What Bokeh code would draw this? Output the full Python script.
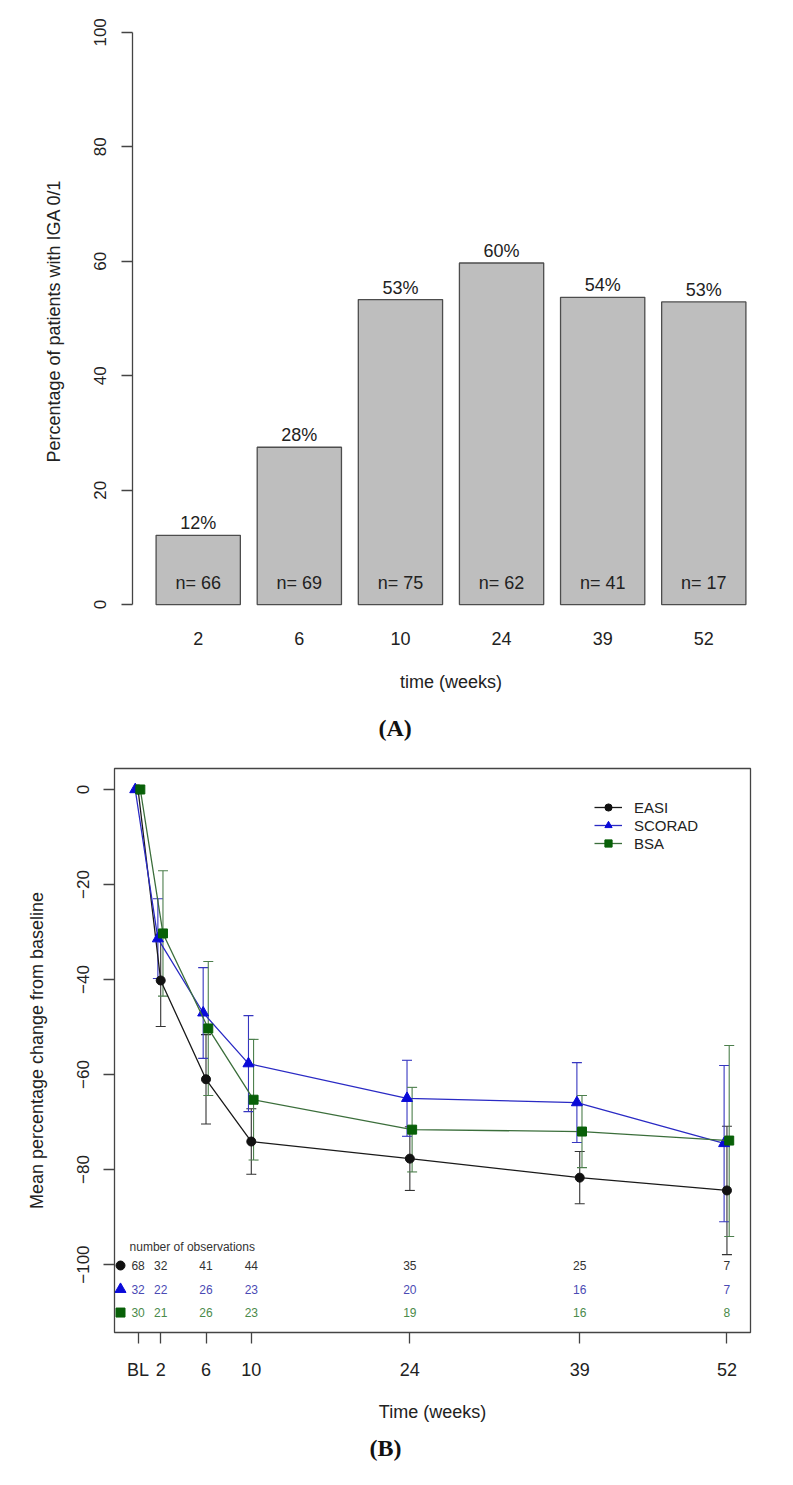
from bokeh.plotting import figure
from bokeh.models import (ColumnDataSource, FixedTicker, Legend, LegendItem,
                          Whisker, TeeHead, Range1d, Title)
from bokeh.core.properties import value
from bokeh.embed import file_html
from bokeh.resources import INLINE

# ---------------- Panel A data ----------------
weeks_a = ["2", "6", "10", "24", "39", "52"]
pct_a = [12.1, 27.5, 53.3, 59.7, 53.7, 52.9]
pct_text_a = ["12%", "28%", "53%", "60%", "54%", "53%"]
n_a = [66, 69, 75, 62, 41, 17]
yticks_a = [0, 20, 40, 60, 80, 100]

# ---------------- Panel B data ----------------
weeks_b = [0, 2, 6, 10, 24, 39, 52]
week_labels_b = ["BL", "2", "6", "10", "24", "39", "52"]
easi_mean = [0, -40.2, -61.0, -74.1, -77.7, -81.7, -84.4]
easi_lo = [0, -49.9, -70.4, -81.0, -84.4, -87.2, -97.9]
easi_hi = [0, -30.5, -51.6, -67.2, -71.0, -76.2, -70.9]
scorad_mean = [0, -31.4, -47.0, -57.7, -65.0, -65.9, -74.5]
scorad_lo = [0, -39.8, -56.6, -67.8, -73.0, -74.3, -91.0]
scorad_hi = [0, -23.0, -37.5, -47.6, -57.0, -57.5, -58.1]
bsa_mean = [0, -30.3, -50.3, -65.3, -71.6, -72.0, -73.9]
bsa_lo = [0, -43.5, -64.4, -78.0, -80.5, -79.6, -94.1]
bsa_hi = [0, -17.1, -36.2, -52.6, -62.7, -64.4, -53.9]
n_easi = [68, 32, 41, 44, 35, 25, 7]
n_scorad = [32, 22, 26, 23, 20, 16, 7]
n_bsa = [30, 21, 26, 23, 19, 16, 8]
yticks_b = [0, -20, -40, -60, -80, -100]

FONT = "Liberation Sans"
SERIF = "Liberation Serif"
TXT = "#222222"
AX = "#444444"

# ================= Panel A =================
pa = figure(width=777, height=758, x_range=Range1d(-0.65, 5.65), y_range=Range1d(-4, 104),
            output_backend="svg", toolbar_location=None,
            min_border_left=132, min_border_right=8, min_border_top=9, min_border_bottom=130)
pa.outline_line_color = None
pa.xgrid.visible = False
pa.ygrid.visible = False

idx = list(range(len(weeks_a)))
src_a = ColumnDataSource(dict(x=idx, top=pct_a, pct=pct_text_a,
                              n=["n= %d" % v for v in n_a], ny=[3.8] * len(idx)))
pa.vbar(x="x", top="top", bottom=0, width=1 / 1.2, source=src_a,
        fill_color="#bebebe", line_color="#4d4d4d", line_width=1.3)
pa.text(x="x", y="top", text="pct", source=src_a, text_align="center", text_baseline="bottom",
        y_offset=-2, text_font=value(FONT), text_font_size="18px", text_color=TXT)
pa.text(x="x", y="ny", text="n", source=src_a, text_align="center", text_baseline="middle",
        text_font=value(FONT), text_font_size="18px", text_color=TXT)

ya = pa.yaxis[0]
ya.ticker = FixedTicker(ticks=yticks_a)
ya.bounds = (0, 100)
ya.major_label_orientation = "vertical"
ya.major_tick_out = 11
ya.major_tick_in = 0
ya.minor_tick_line_color = None
ya.axis_line_color = AX
ya.axis_line_width = 1.3
ya.major_tick_line_color = AX
ya.major_tick_line_width = 1.3
ya.major_label_standoff = 15
ya.major_label_text_font = FONT
ya.major_label_text_font_size = "17px"
ya.major_label_text_color = TXT
ya.axis_label = "Percentage of patients with IGA  0/1"
ya.axis_label_text_font = FONT
ya.axis_label_text_font_size = "18px"
ya.axis_label_text_font_style = "normal"
ya.axis_label_text_color = TXT
ya.axis_label_standoff = 28

xa = pa.xaxis[0]
xa.ticker = FixedTicker(ticks=idx)
xa.major_label_overrides = {i: w for i, w in zip(idx, weeks_a)}
xa.axis_line_color = None
xa.major_tick_line_color = None
xa.minor_tick_line_color = None
xa.major_tick_out = 0
xa.major_tick_in = 0
xa.major_label_standoff = 4
xa.major_label_text_font = FONT
xa.major_label_text_font_size = "18px"
xa.major_label_text_color = TXT
xa.axis_label = "time (weeks)"
xa.axis_label_text_font = FONT
xa.axis_label_text_font_size = "18px"
xa.axis_label_text_font_style = "normal"
xa.axis_label_text_color = TXT
xa.axis_label_standoff = 24

pa.add_layout(Title(text="(A)", align="left", offset=246, standoff=36, text_font=SERIF,
                    text_font_style="bold", text_font_size="24px", text_color="#111111"), "below")

# ================= Panel B =================
pb = figure(width=777, height=719, x_range=Range1d(-2.08, 54.08), y_range=Range1d(-114.3, 4.42),
            output_backend="svg", toolbar_location=None,
            min_border_left=114, min_border_right=27, min_border_top=10, min_border_bottom=145)
pb.outline_line_color = AX
pb.outline_line_width = 1.3
pb.xgrid.visible = False
pb.ygrid.visible = False

series = [
    ("EASI", easi_mean, easi_lo, easi_hi, n_easi, 0.0, "circle", 9, "#111111", "#1a1a1a", "#333333", "#333333"),
    ("SCORAD", scorad_mean, scorad_lo, scorad_hi, n_scorad, -0.25, "triangle", 11, "#0a0ad8", "#2a2ac4", "#3636c0", "#4a4ab4"),
    ("BSA", bsa_mean, bsa_lo, bsa_hi, n_bsa, 0.2, "square", 9, "#086008", "#3b6e3b", "#4d7f4d", "#4a8a4a"),
]

legend_items = []
row_y = [-100.2, -105.2, -110.1]
for k, (name, mean, lo, hi, nobs, off, marker, msize, mcol, lcol, ecol, tcol) in enumerate(series):
    xs = [w + off for w in weeks_b]
    src = ColumnDataSource(dict(x=xs, y=mean))
    esrc = ColumnDataSource(dict(x=xs[1:], lo=lo[1:], hi=hi[1:]))
    pb.add_layout(Whisker(source=esrc, base="x", lower="lo", upper="hi", dimension="height",
                          line_color=ecol, line_width=1.1,
                          upper_head=TeeHead(size=10, line_color=ecol, line_width=1.1),
                          lower_head=TeeHead(size=10, line_color=ecol, line_width=1.1)))
    ln = pb.line("x", "y", source=src, line_color=lcol, line_width=1.3)
    sc = pb.scatter("x", "y", source=src, marker=marker, size=msize, fill_color=mcol, line_color=mcol)
    legend_items.append(LegendItem(label=name, renderers=[ln, sc]))
    nsrc = ColumnDataSource(dict(x=weeks_b, y=[row_y[k]] * len(weeks_b), t=[str(v) for v in nobs]))
    pb.text("x", "y", text="t", source=nsrc, text_align="center", text_baseline="middle",
            text_font=value(FONT), text_font_size="12px", text_color=tcol)
    pb.scatter(x=[-1.55], y=[row_y[k]], marker=marker, size=msize, fill_color=mcol, line_color=mcol)

pb.text(x=[-0.75], y=[-96.2], text=["number of observations"], text_align="left",
        text_baseline="middle", text_font=value(FONT), text_font_size="12px", text_color="#333333")

legend = Legend(items=legend_items, location=(480, 480))
legend.border_line_color = None
legend.background_fill_alpha = 0
legend.label_text_font = FONT
legend.label_text_font_size = "15px"
legend.label_text_color = TXT
legend.glyph_width = 28
legend.glyph_height = 18
legend.label_height = 18
legend.label_standoff = 12
legend.padding = 0
legend.spacing = 0
pb.add_layout(legend)

yb = pb.yaxis[0]
yb.ticker = FixedTicker(ticks=yticks_b)
yb.major_label_overrides = {v: str(v).replace("-", "\u2212") for v in yticks_b}
yb.major_label_orientation = "vertical"
yb.axis_line_color = None
yb.major_tick_out = 11
yb.major_tick_in = 0
yb.minor_tick_line_color = None
yb.major_tick_line_color = AX
yb.major_tick_line_width = 1.3
yb.major_label_standoff = 14
yb.major_label_text_font = FONT
yb.major_label_text_font_size = "17px"
yb.major_label_text_color = TXT
yb.axis_label = "Mean percentage change from baseline"
yb.axis_label_text_font = FONT
yb.axis_label_text_font_size = "18px"
yb.axis_label_text_font_style = "normal"
yb.axis_label_text_color = TXT
yb.axis_label_standoff = 28

xb = pb.xaxis[0]
xb.ticker = FixedTicker(ticks=weeks_b)
xb.major_label_overrides = {w: l for w, l in zip(weeks_b, week_labels_b)}
xb.axis_line_color = None
xb.major_tick_out = 11
xb.major_tick_in = 0
xb.minor_tick_line_color = None
xb.major_tick_line_color = AX
xb.major_tick_line_width = 1.3
xb.major_label_standoff = 16
xb.major_label_text_font = FONT
xb.major_label_text_font_size = "18px"
xb.major_label_text_color = TXT
xb.axis_label = "Time (weeks)"
xb.axis_label_text_font = FONT
xb.axis_label_text_font_size = "18px"
xb.axis_label_text_font_style = "normal"
xb.axis_label_text_color = TXT
xb.axis_label_standoff = 19

pb.add_layout(Title(text="(B)", align="left", offset=255, standoff=16, text_font=SERIF,
                    text_font_style="bold", text_font_size="24px", text_color="#111111"), "below")

open("out.html", "w").write(file_html([pa, pb], INLINE))
